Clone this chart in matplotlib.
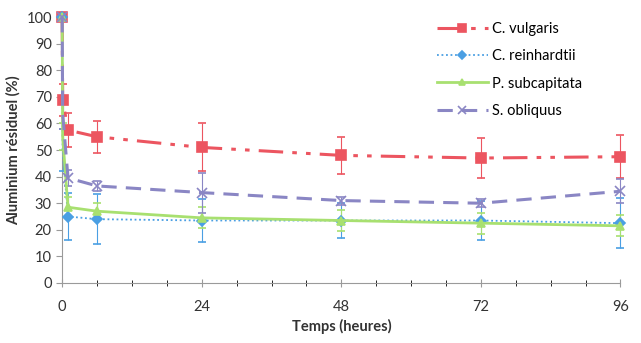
import matplotlib
matplotlib.use("Agg")
import matplotlib.pyplot as plt
from matplotlib.lines import Line2D
from matplotlib.ticker import MultipleLocator

plt.rcParams['font.family'] = ['Lato', 'DejaVu Sans']

temps = [0, 0.08, 1, 6, 24, 48, 72, 96]

vulgaris = [100, 69, 57.5, 55, 51, 48, 47, 47.5]
vulgaris_err = [0, 6, 6.5, 6, 9, 7, 7.5, 8]

reinhardtii = [100, 50, 25, 24, 23.5, 23.5, 23.5, 22.5]
reinhardtii_err = [0, 8, 9, 9.5, 8, 6.5, 7.5, 9.5]

subcapitata = [100, 55, 28.5, 27, 24.5, 23.5, 22.5, 21.5]
subcapitata_err = [0, 5, 4, 3, 4, 4, 4, 4]

obliquus = [100, 64, 39.5, 36.5, 34, 31, 30, 34.5]
obliquus_err = [0, 6, 3, 2, 7.5, 1.5, 1.5, 4.5]

all_pts = list(range(len(temps)))
skip_early = [0] + all_pts[2:]

series = [
    ("C. vulgaris", vulgaris, vulgaris_err, '#EC5560', 's', (0, (8, 3, 1.5, 3, 1.5, 3)), 2.2, 7, all_pts),
    ("C. reinhardtii", reinhardtii, reinhardtii_err, '#4A9FE3', 'D', (0, (1, 1.5)), 1.3, 5, skip_early),
    ("P. subcapitata", subcapitata, subcapitata_err, '#A8E070', '^', '-', 2.0, 6, skip_early),
    ("S. obliquus", obliquus, obliquus_err, '#8A86C4', 'x', (0, (5, 3)), 2.2, 7, skip_early),
]

fig, ax = plt.subplots(figsize=(6.41, 3.43), dpi=100)
fig.subplots_adjust(left=0.097, right=0.968, top=0.95, bottom=0.175)

handles = []
for name, vals, errs, color, marker, ls, lw, ms, every in series:
    ax.errorbar(temps, vals, yerr=errs, color=color, marker=marker, markersize=ms,
                markevery=every, linestyle=ls, linewidth=lw, elinewidth=0.8,
                capsize=3, capthick=0.8, markeredgewidth=1.2, clip_on=False, zorder=3)
    handles.append(Line2D([], [], color=color, marker=marker, markersize=ms - 1,
                          linestyle=ls, linewidth=lw, markeredgewidth=1.2, label=name))

ax.set_xlim(0, 96)
ax.set_ylim(0, 100)
ax.xaxis.set_major_locator(MultipleLocator(24))
ax.xaxis.set_minor_locator(MultipleLocator(6))
ax.yaxis.set_major_locator(MultipleLocator(10))

for s in ['top', 'right']:
    ax.spines[s].set_visible(False)
for s in ['left', 'bottom']:
    ax.spines[s].set_color('#9a9a9a')
ax.tick_params(axis='both', colors='#9a9a9a', labelcolor='#333333', labelsize=10.5)
ax.tick_params(axis='x', which='both', direction='inout', length=6, pad=9)
ax.tick_params(axis='x', which='minor', length=4)
ax.tick_params(axis='y', direction='out', length=4)

ax.set_xlabel("Temps (heures)", fontweight='bold', fontsize=10.5, color='#333333')
ax.set_ylabel("Aluminium résiduel (%)", fontweight='bold', fontsize=10.5, color='#333333')

ax.legend(handles=handles, loc='upper right', bbox_to_anchor=(0.955, 1.03), frameon=False,
          fontsize=10.5, handlelength=3.5, labelspacing=0.9, handletextpad=0.3)

fig.savefig("out.png", dpi=100)
